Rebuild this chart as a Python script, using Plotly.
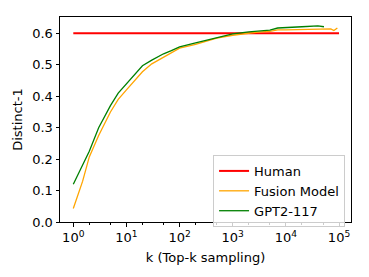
import plotly.graph_objects as go

human_k = [1, 100000]
human_y = [0.6, 0.6]

fusion_k = [1, 1.5, 2, 3, 5, 7, 10, 15, 20, 30, 50, 70, 100, 200, 300, 500, 1000,
            2000, 3000, 5000, 7000, 10000, 20000, 50000, 70000, 80000, 93000]
fusion_y = [0.043, 0.13, 0.207, 0.275, 0.35, 0.39, 0.42, 0.455, 0.478, 0.503, 0.525,
            0.538, 0.553, 0.565, 0.573, 0.585, 0.594, 0.601, 0.604, 0.606, 0.611,
            0.611, 0.612, 0.613, 0.614, 0.609, 0.617]

gpt_k = [1, 2, 3, 5, 7, 10, 15, 20, 30, 50, 70, 100, 200, 300, 500, 1000, 2000,
         3000, 5000, 7000, 10000, 20000, 40000, 52000]
gpt_y = [0.12, 0.225, 0.30, 0.37, 0.41, 0.44, 0.475, 0.497, 0.515, 0.535, 0.545,
         0.557, 0.57, 0.577, 0.588, 0.598, 0.605, 0.608, 0.61, 0.617, 0.619, 0.621,
         0.624, 0.621]

x_tickvals = [1, 10, 100, 1000, 10000, 100000]
x_ticktext = ["10<sup>0</sup>", "10<sup>1</sup>", "10<sup>2</sup>", "10<sup>3</sup>",
              "10<sup>4</sup>", "10<sup>5</sup>"]
y_tickvals = [0.0, 0.1, 0.2, 0.3, 0.4, 0.5, 0.6]

fig = go.Figure()
fig.add_trace(go.Scatter(x=human_k, y=human_y, mode="lines", name="Human",
                         line=dict(color="#ff0000", width=2)))
fig.add_trace(go.Scatter(x=fusion_k, y=fusion_y, mode="lines", name="Fusion Model",
                         line=dict(color="#ffa500", width=1.3)))
fig.add_trace(go.Scatter(x=gpt_k, y=gpt_y, mode="lines", name="GPT2-117",
                         line=dict(color="#008000", width=1.3)))

axis_common = dict(showline=True, linecolor="black", linewidth=1, mirror=True,
                   ticks="outside", ticklen=3.5, tickcolor="black", showgrid=False,
                   zeroline=False, automargin=False,
                   tickfont=dict(size=13, color="black"))

fig.update_xaxes(type="log", range=[-0.25, 5.225], tickvals=x_tickvals,
                 ticktext=x_ticktext,
                 title=dict(text="k (Top-k sampling)", font=dict(size=13, color="black"),
                            standoff=8),
                 minor=dict(ticks="outside", ticklen=2, tickcolor="black", showgrid=False),
                 **axis_common)
fig.update_yaxes(range=[0, 0.652], tickvals=y_tickvals, tickformat=".1f",
                 title=dict(text="Distinct-1", font=dict(size=13, color="black"),
                            standoff=6),
                 **axis_common)

fig.update_layout(
    width=369, height=277,
    margin=dict(l=60, r=18, t=17, b=55),
    paper_bgcolor="white", plot_bgcolor="white",
    font=dict(family="DejaVu Sans", size=13, color="black"),
    legend=dict(x=0.526, y=0.327, xanchor="left", yanchor="top",
                bgcolor="rgba(255,255,255,0.8)", bordercolor="#cccccc", borderwidth=1,
                font=dict(size=13), tracegroupgap=0, itemwidth=30),
    showlegend=True,
)

fig.write_html("out.html", config={"displayModeBar": False},
               post_script="document.body.style.margin='0';document.body.style.overflow='hidden';")
